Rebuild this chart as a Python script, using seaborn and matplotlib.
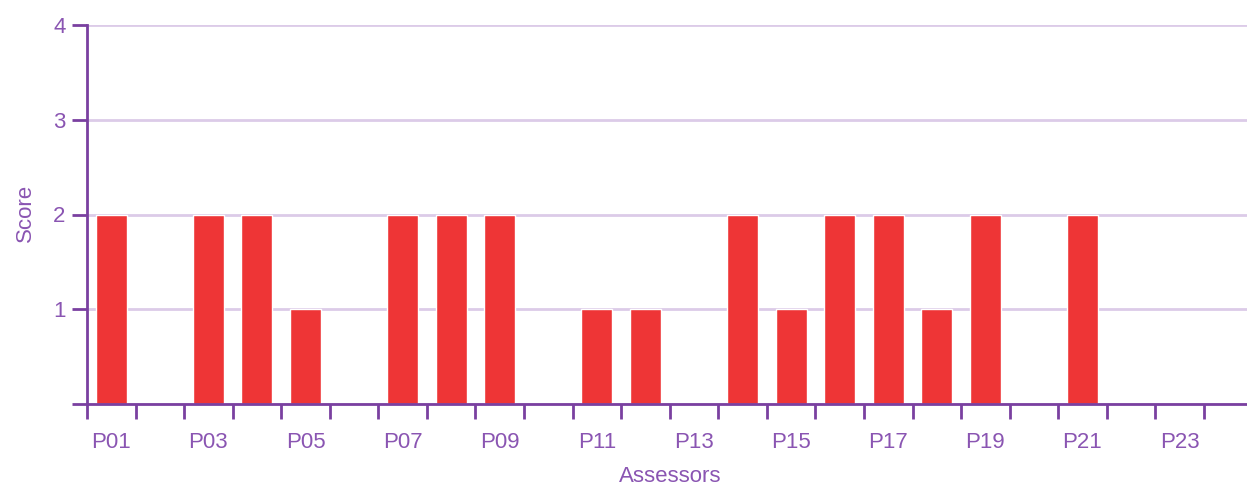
import matplotlib
matplotlib.use("Agg")
import matplotlib.pyplot as plt
import seaborn as sns
import pandas as pd
import numpy as np

assessors = [f"P{i:02d}" for i in range(1, 25)]
scores = [2, 0, 2, 2, 1, 0, 2, 2, 2, 0, 1, 1, 0, 2, 1, 2, 2, 1, 2, 0, 2, 0, 0, 0]
y_ticks = [0, 1, 2, 3, 4]
y_tick_labels = ["", "1", "2", "3", "4"]

BAR = "#EE3536"
AXIS = "#7A40A0"
TEXT = "#8A55B2"
GRID = "#DCCBE8"

sns.set_theme(style="white")
plt.rcParams['font.family'] = ['Liberation Sans', 'DejaVu Sans']

df = pd.DataFrame({"Assessor": assessors, "Score": scores})

W, H = 1247, 488
fig = plt.figure(figsize=(W / 100, H / 100), dpi=100)
left, right, top, bottom = 87, 1247, 25, 404
ax = fig.add_axes([left / W, 1 - bottom / H, (right - left) / W, (bottom - top) / H])

sns.barplot(data=df, x="Assessor", y="Score", color=BAR, width=0.64,
            saturation=1, ax=ax, zorder=3)

slot = 48.56
ax.set_xlim(-0.5, -0.5 + (right - left) / slot)
ax.set_ylim(0, 4)

ax.set_yticks(y_ticks)
ax.set_yticklabels(y_tick_labels)
ax.yaxis.grid(True, color=GRID, linewidth=2, zorder=0)
ax.xaxis.grid(False)

# Boundary ticks (major) and labels at centres (minor)
ax.set_xticks(np.arange(len(assessors)) - 0.5)
ax.set_xticklabels([])
ax.set_xticks(np.arange(0, len(assessors), 2), minor=True)
ax.set_xticklabels(assessors[::2], minor=True)
ax.tick_params(axis="x", which="major", bottom=True, length=10.5, width=2,
               color=AXIS, direction="out")
ax.tick_params(axis="x", which="minor", bottom=True, length=0, pad=20.5,
               labelsize=16, labelcolor=TEXT)
ax.tick_params(axis="y", left=True, length=10.5, width=2, color=AXIS,
               direction="out", pad=5, labelsize=16, labelcolor=TEXT)

for s in ["top", "right"]:
    ax.spines[s].set_visible(False)
for s in ["left", "bottom"]:
    ax.spines[s].set_color(AXIS)
    ax.spines[s].set_linewidth(2)
    ax.spines[s].set_zorder(4)

ax.set_xlabel("")
ax.set_ylabel("")
fig.text(670.5 / W, 5.5 / H, "Assessors", color=TEXT, fontsize=16,
         ha="center", va="baseline")
fig.text(31 / W, 1 - 213 / H, "Score", color=TEXT, fontsize=16, rotation=90,
         rotation_mode="anchor", ha="center", va="baseline")

fig.savefig("out.png", dpi=100)
